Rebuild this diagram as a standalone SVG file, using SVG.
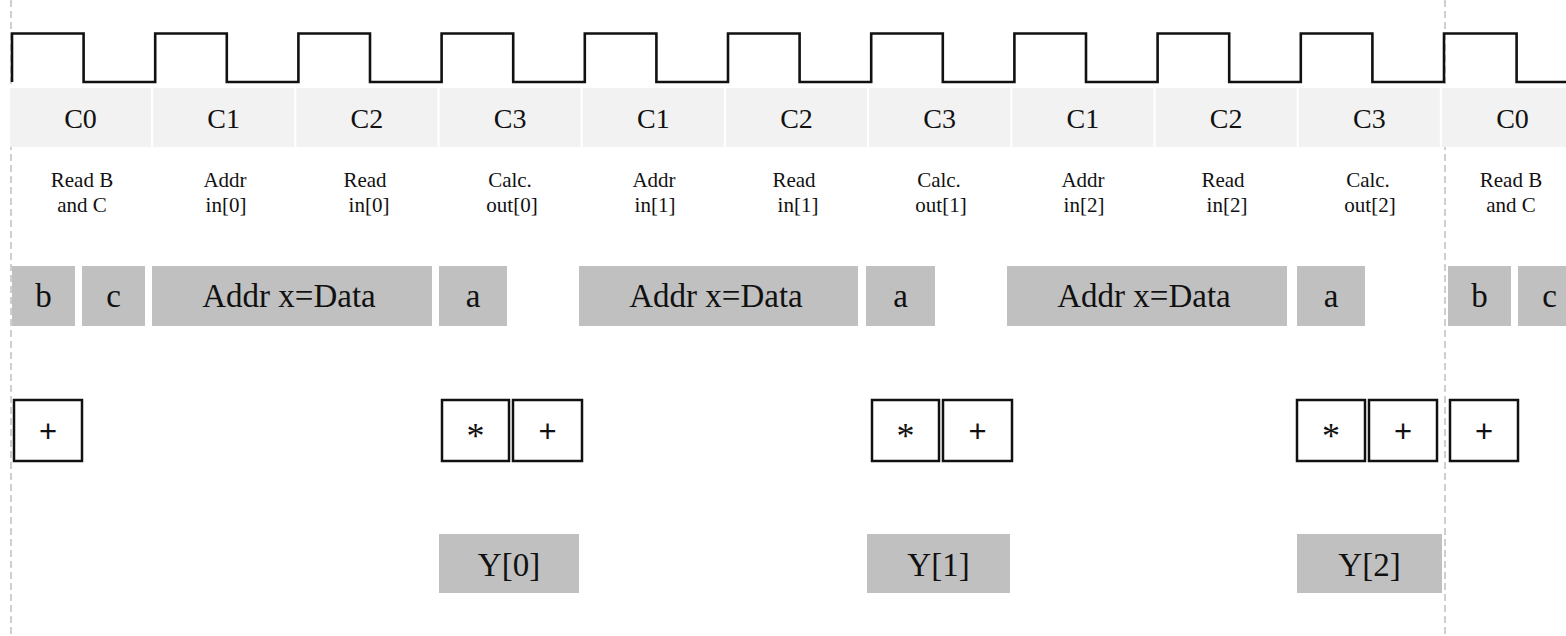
<svg xmlns="http://www.w3.org/2000/svg" width="1566" height="636" viewBox="0 0 1566 636">
  <style>
    .hdr { fill: #f2f2f2; }
    .hdr-t { font-family: "Liberation Serif", "Times New Roman", serif; font-size: 28px; fill: #111; text-anchor: middle; }
    .lbl { font-family: "Liberation Serif", "Times New Roman", serif; font-size: 21px; fill: #111; text-anchor: middle; }
    .reg { fill: #c0c0c0; }
    .reg-t { font-family: "Liberation Serif", "Times New Roman", serif; font-size: 33px; fill: #111; text-anchor: middle; }
    .op { fill: #fff; stroke: #111; stroke-width: 2.5; }
    .plus { font-family: "Liberation Sans", Arial, sans-serif; font-size: 31px; fill: #111; text-anchor: middle; }
    .star { font-family: "Liberation Serif", "Times New Roman", serif; font-size: 36px; fill: #111; text-anchor: middle; }
    .guide { stroke: #c4c4c4; stroke-width: 1.6; stroke-dasharray: 7 4; fill: none; }
    .clk { stroke: #111; stroke-width: 2.6; fill: none; stroke-linejoin: miter; }
  </style>

  <rect width="1566" height="636" fill="#fff"/>

  <!-- frame boundaries -->
  <g id="guides">
    <line class="guide" x1="11" y1="0" x2="11" y2="636"/>
    <line class="guide" x1="1445" y1="0" x2="1445" y2="636"/>
  </g>

  <!-- clock waveform -->
  <g id="clock">
    <path class="clk" d="M12 82 V33.5 H83.6 V82 H155.2 V33.5 H226.8 V82 H298.4 V33.5 H370 V82 H441.6 V33.5 H513.2 V82 H584.8 V33.5 H656.4 V82 H728 V33.5 H799.6 V82 H871.2 V33.5 H942.8 V82 H1014.4 V33.5 H1086 V82 H1157.6 V33.5 H1229.2 V82 H1300.8 V33.5 H1372.4 V82 H1444 V33.5 H1516.6 V82 H1566"/>
  </g>

  <!-- cycle header -->
  <g id="cycles">
    <g id="cyc0"><rect class="hdr" x="10" y="88" width="141" height="59"/><text class="hdr-t" x="80.5" y="128">C0</text></g>
    <g id="cyc1"><rect class="hdr" x="153.2" y="88" width="141" height="59"/><text class="hdr-t" x="223.7" y="128">C1</text></g>
    <g id="cyc2"><rect class="hdr" x="296.4" y="88" width="141" height="59"/><text class="hdr-t" x="366.9" y="128">C2</text></g>
    <g id="cyc3"><rect class="hdr" x="439.6" y="88" width="141" height="59"/><text class="hdr-t" x="510.1" y="128">C3</text></g>
    <g id="cyc4"><rect class="hdr" x="582.8" y="88" width="141" height="59"/><text class="hdr-t" x="653.3" y="128">C1</text></g>
    <g id="cyc5"><rect class="hdr" x="726" y="88" width="141" height="59"/><text class="hdr-t" x="796.5" y="128">C2</text></g>
    <g id="cyc6"><rect class="hdr" x="869.2" y="88" width="141" height="59"/><text class="hdr-t" x="939.7" y="128">C3</text></g>
    <g id="cyc7"><rect class="hdr" x="1012.4" y="88" width="141" height="59"/><text class="hdr-t" x="1082.9" y="128">C1</text></g>
    <g id="cyc8"><rect class="hdr" x="1155.6" y="88" width="141" height="59"/><text class="hdr-t" x="1226.1" y="128">C2</text></g>
    <g id="cyc9"><rect class="hdr" x="1298.8" y="88" width="141" height="59"/><text class="hdr-t" x="1369.3" y="128">C3</text></g>
    <g id="cyc10"><rect class="hdr" x="1442" y="88" width="141" height="59"/><text class="hdr-t" x="1512.5" y="128">C0</text></g>
  </g>

  <!-- per-cycle action labels -->
  <g id="actions">
    <g id="act0"><text class="lbl" x="82" y="187">Read B</text><text class="lbl" x="82" y="212">and C</text></g>
    <g id="act1"><text class="lbl" x="225" y="187">Addr</text><text class="lbl" x="226" y="212">in[0]</text></g>
    <g id="act2"><text class="lbl" x="365" y="187">Read</text><text class="lbl" x="369" y="212">in[0]</text></g>
    <g id="act3"><text class="lbl" x="510" y="187">Calc.</text><text class="lbl" x="512" y="212">out[0]</text></g>
    <g id="act4"><text class="lbl" x="654" y="187">Addr</text><text class="lbl" x="655" y="212">in[1]</text></g>
    <g id="act5"><text class="lbl" x="794" y="187">Read</text><text class="lbl" x="798" y="212">in[1]</text></g>
    <g id="act6"><text class="lbl" x="939" y="187">Calc.</text><text class="lbl" x="941" y="212">out[1]</text></g>
    <g id="act7"><text class="lbl" x="1083" y="187">Addr</text><text class="lbl" x="1084" y="212">in[2]</text></g>
    <g id="act8"><text class="lbl" x="1223" y="187">Read</text><text class="lbl" x="1227" y="212">in[2]</text></g>
    <g id="act9"><text class="lbl" x="1368" y="187">Calc.</text><text class="lbl" x="1370" y="212">out[2]</text></g>
    <g id="act10"><text class="lbl" x="1511" y="187">Read B</text><text class="lbl" x="1511" y="212">and C</text></g>
  </g>

  <!-- register / memory accesses -->
  <g id="accesses">
    <g id="reg-b0"><rect class="reg" x="12" y="266" width="63" height="60"/><text class="reg-t" x="43.5" y="307">b</text></g>
    <g id="reg-c0"><rect class="reg" x="82" y="266" width="63" height="60"/><text class="reg-t" x="113.5" y="307">c</text></g>
    <g id="mem0"><rect class="reg" x="152" y="266" width="280" height="60"/><text class="reg-t" x="289" y="307">Addr x=Data</text></g>
    <g id="reg-a0"><rect class="reg" x="439" y="266" width="68" height="60"/><text class="reg-t" x="473" y="307">a</text></g>
    <g id="mem1"><rect class="reg" x="579" y="266" width="279" height="60"/><text class="reg-t" x="716" y="307">Addr x=Data</text></g>
    <g id="reg-a1"><rect class="reg" x="866" y="266" width="69" height="60"/><text class="reg-t" x="900.5" y="307">a</text></g>
    <g id="mem2"><rect class="reg" x="1007" y="266" width="280" height="60"/><text class="reg-t" x="1144" y="307">Addr x=Data</text></g>
    <g id="reg-a2"><rect class="reg" x="1297" y="266" width="68" height="60"/><text class="reg-t" x="1331" y="307">a</text></g>
    <g id="reg-b1"><rect class="reg" x="1448" y="266" width="63" height="60"/><text class="reg-t" x="1479.5" y="307">b</text></g>
    <g id="reg-c1"><rect class="reg" x="1518" y="266" width="63" height="60"/><text class="reg-t" x="1549.5" y="307">c</text></g>
  </g>

  <!-- arithmetic operations -->
  <g id="ops">
    <g id="add0"><rect class="op" x="14" y="400" width="68" height="61"/><text class="plus" x="48" y="442">+</text></g>
    <g id="mul0"><rect class="op" x="442" y="400" width="67" height="61"/><text class="star" x="475.5" y="448">*</text></g>
    <g id="add1"><rect class="op" x="513" y="400" width="69" height="61"/><text class="plus" x="547.5" y="442">+</text></g>
    <g id="mul1"><rect class="op" x="872" y="400" width="67" height="61"/><text class="star" x="905.5" y="448">*</text></g>
    <g id="add2"><rect class="op" x="943" y="400" width="69" height="61"/><text class="plus" x="977.5" y="442">+</text></g>
    <g id="mul2"><rect class="op" x="1297" y="400" width="68" height="61"/><text class="star" x="1331" y="448">*</text></g>
    <g id="add3"><rect class="op" x="1369" y="400" width="68" height="61"/><text class="plus" x="1403" y="442">+</text></g>
    <g id="add4"><rect class="op" x="1450" y="400" width="68" height="61"/><text class="plus" x="1484" y="442">+</text></g>
  </g>

  <!-- outputs written -->
  <g id="outputs">
    <g id="y0"><rect class="reg" x="439" y="534" width="140" height="59"/><text class="reg-t" x="509" y="576">Y[0]</text></g>
    <g id="y1"><rect class="reg" x="867" y="534" width="143" height="59"/><text class="reg-t" x="938.5" y="576">Y[1]</text></g>
    <g id="y2"><rect class="reg" x="1297" y="534" width="145" height="59"/><text class="reg-t" x="1369.5" y="576">Y[2]</text></g>
  </g>
</svg>
